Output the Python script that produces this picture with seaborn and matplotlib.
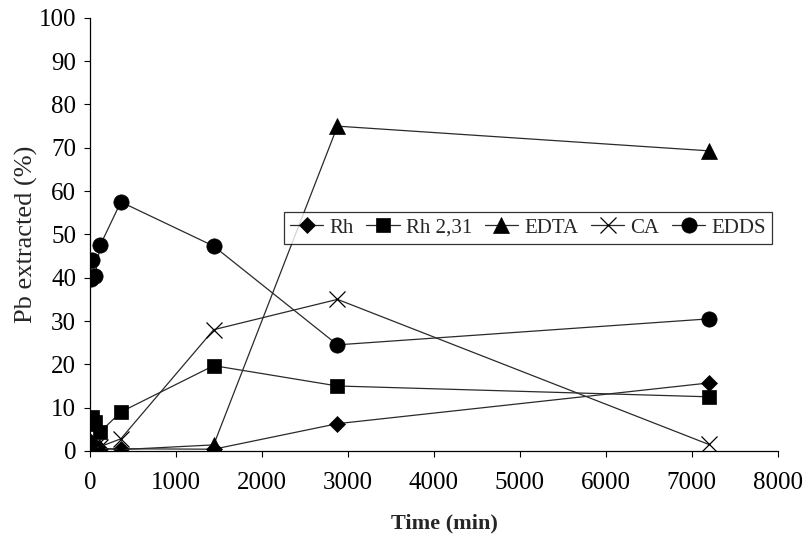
import matplotlib
matplotlib.use("Agg")
import matplotlib.pyplot as plt
import pandas as pd
import numpy as np
import seaborn as sns

# time points (min) and Pb extracted (%) per extractant
time = [15, 30, 60, 120, 360, 1440, 2880, 7200]
rh = [2.0, 1.0, 0.6, 0.5, 0.5, 0.4, 6.3, 15.7]
rh_231 = [6.2, 7.8, 6.6, 4.4, 9.0, 19.7, 15.0, 12.5]
edta = [0.5, 0.8, 0.5, 0.6, 0.3, 1.4, 75.0, 69.3]
ca = [0.6, 1.0, 0.8, 1.0, 2.8, 28.0, 35.0, 1.5]
edds = [39.8, 44.2, 40.5, 47.5, 57.5, 47.3, 24.5, 30.5]

names = ['Rh', 'Rh 2,31', 'EDTA', 'CA', 'EDDS']
series = [rh, rh_231, edta, ca, edds]

df = pd.concat([pd.DataFrame({'time': time, 'pb': s, 'series': n})
                for n, s in zip(names, series)], ignore_index=True)

sns.set_style('white')
plt.rcParams['font.family'] = ['Liberation Serif', 'DejaVu Serif']

fig, ax = plt.subplots(figsize=(8.1, 5.42), dpi=100)
fig.subplots_adjust(left=0.111, right=0.96, top=0.967, bottom=0.168)

markers = {'Rh': 'D', 'Rh 2,31': 's', 'EDTA': '^', 'CA': 'x', 'EDDS': 'o'}
sizes = {'Rh': 8.5, 'Rh 2,31': 10.5, 'EDTA': 11, 'CA': 11, 'EDDS': 11}

for n in names:
    sub = df[df.series == n]
    sns.lineplot(data=sub, x='time', y='pb', ax=ax, color='#2a2a2a', lw=0.9,
                 marker=markers[n], markersize=sizes[n], markeredgecolor='black',
                 markerfacecolor='black', markeredgewidth=0.9 if n == 'CA' else 0.5,
                 label=n, estimator=None, sort=False)

ax.set_xlim(0, 8000)
ax.set_ylim(0, 100)
ax.set_xticks(np.arange(0, 8001, 1000))
ax.set_yticks(np.arange(0, 101, 10))
ax.tick_params(axis='both', labelsize=18, direction='out', length=4, width=0.8,
               left=True, bottom=True, colors='black')
ax.tick_params(axis='y', pad=6)
ax.tick_params(axis='x', pad=11)
for side in ['top', 'right']:
    ax.spines[side].set_visible(False)
for side in ['left', 'bottom']:
    ax.spines[side].set_color('black')
    ax.spines[side].set_linewidth(0.9)

ax.set_xlabel('Time (min)', fontsize=16, fontweight='bold')
ax.xaxis.set_label_coords(0.516, -0.145)
ax.set_ylabel('Pb extracted (%)', fontsize=19)
ax.yaxis.set_label_coords(-0.075, 0.5)

leg = ax.legend(ncol=5, loc='center', bbox_to_anchor=(0.637, 0.515), fontsize=15,
                frameon=True, fancybox=False, handlelength=1.6, handletextpad=0.3,
                columnspacing=0.6, borderpad=0.3, borderaxespad=0)
leg.get_frame().set_edgecolor('black')
leg.get_frame().set_linewidth(0.9)

plt.savefig('out.png', dpi=100)
